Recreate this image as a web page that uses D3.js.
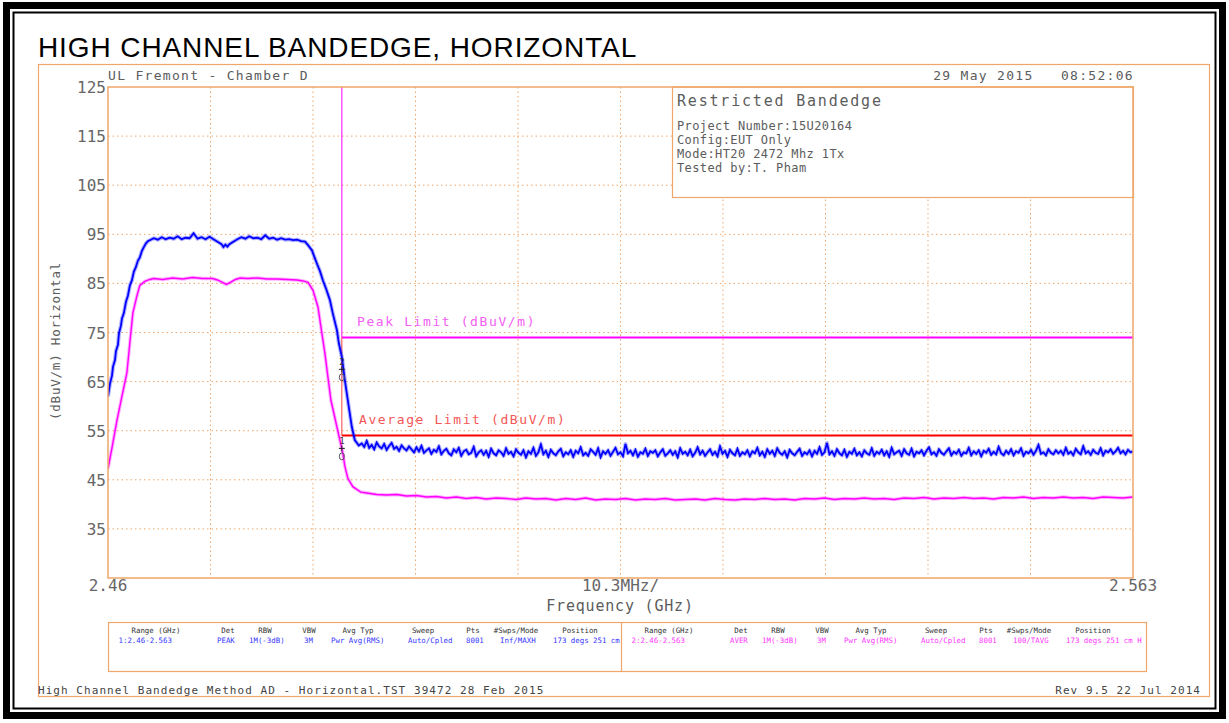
<!DOCTYPE html>
<html>
<head>
<meta charset="utf-8">
<script src="https://cdn.jsdelivr.net/npm/d3@7"></script>
<style>
  body { margin: 0; background: #fff; }
  svg { display: block; }
  text { white-space: pre; }
</style>
</head>
<body>
<svg id="chart"></svg>
<script>
// ---- data ----
const startGHz = 2.46, stopGHz = 2.563;
const levelMin = 25, levelMax = 125;
const yTickLabels = [125, 115, 105, 95, 85, 75, 65, 55, 45, 35];
const xTickLabels = ["2.46", "10.3MHz/", "2.563"];
const bandEdgeGHz = 2.4835;
const peakLimit = 74, avgLimit = 54;

// trace 1 (PEAK / MAXH): [MHz above 2460, dBuV/m]
const peakShape = [
  [0.0,62.0],[0.2,64.6],[0.4,66.2],[0.5,68.0],[0.7,69.4],[0.8,71.2],[1.0,72.5],[1.1,74.8],[1.3,76.4],[1.4,77.8],
  [1.6,79.0],[1.8,81.2],[2.0,82.5],[2.2,84.6],[2.4,85.6],[2.6,87.4],[2.8,88.3],[3.0,89.6],[3.2,90.3],[3.4,91.6],
  [3.6,92.4],[3.8,93.1],[4.0,93.6],[4.3,93.9],[4.6,94.2],[5.0,93.9],[5.4,94.4],[5.8,94.0],[6.2,94.3],[6.6,94.1],
  [7.0,94.6],[7.4,94.0],[7.8,94.3],[8.2,94.2],[8.6,95.2],[9.0,94.1],[9.4,94.4],[9.8,94.0],[10.2,94.5],[10.6,94.0],
  [11.0,93.5],[11.4,93.0],[11.6,92.4],[11.8,92.9],[12.0,92.5],[12.2,93.0],[12.6,93.5],[13.0,94.0],[13.4,94.4],[13.8,94.1],
  [14.2,94.6],[14.6,94.2],[15.0,94.3],[15.4,94.0],[15.8,94.8],[16.2,94.1],[16.6,94.3],[17.0,93.9],[17.4,94.2],[17.8,93.9],
  [18.2,94.0],[18.6,93.8],[19.0,93.9],[19.4,93.6],[19.8,93.5],[20.1,92.8],[20.5,91.7],[20.7,90.6],[21.0,89.0],[21.3,87.5],
  [21.6,85.6],[21.9,84.0],[22.3,81.6],[22.6,78.8],[23.0,75.5],[23.2,72.8],[23.5,70.0],[23.8,65.3],[24.2,59.8],[24.5,55.8],
  [24.8,53.1],[25.2,52.0]
];
const peakFloorStart = 25.5, peakFloorStep = 0.25;   // MHz
const peakFloor = [
  52.4,51.7,52.9,51.5,52.1,51.2,52.6,51.8,51.4,52.3,51.1,51.9,52.5,51.3,51.7,50.9,52.0,51.4,51.0,51.8,
  51.2,50.6,51.6,50.8,51.9,50.5,51.0,51.4,50.3,51.1,50.7,51.8,50.2,50.9,51.3,50.4,50.0,51.2,50.6,51.5,
  49.9,50.8,51.1,50.2,50.5,51.7,49.8,50.6,51.0,50.1,50.9,49.7,51.3,50.4,50.0,51.0,50.6,49.9,51.4,50.3,
  50.7,49.8,51.2,50.5,50.1,51.0,49.6,50.8,50.3,51.5,49.9,50.6,52.2,50.2,50.9,49.7,51.1,50.4,50.0,50.8,
  51.3,49.8,50.6,50.2,51.0,49.7,50.9,50.4,51.6,50.0,50.5,49.9,51.2,50.7,50.1,51.4,49.6,50.8,50.3,51.0,
  49.9,50.7,51.5,50.2,50.6,49.8,52.3,50.4,50.9,50.0,51.1,49.7,50.6,50.3,51.3,49.9,50.8,50.5,51.0,49.8,
  50.6,51.2,49.9,50.4,51.0,50.1,50.8,49.6,51.4,50.3,50.7,50.0,51.1,49.8,50.5,51.6,50.2,50.9,49.9,50.6,
  51.2,50.1,50.7,49.8,51.8,50.3,50.9,49.7,51.1,50.4,50.0,51.3,49.9,50.6,50.2,51.0,49.8,50.8,50.4,51.5,
  50.0,50.7,49.7,51.2,50.3,50.9,49.9,51.4,50.5,50.1,50.8,49.6,51.1,50.4,50.0,50.7,51.3,49.9,50.6,50.2,
  51.0,49.8,50.9,50.3,51.6,50.1,50.6,52.5,50.2,50.8,49.9,51.2,50.4,50.0,51.1,49.7,50.7,50.3,51.3,50.0,
  50.6,49.8,51.0,50.4,50.1,51.4,49.9,50.7,50.3,51.1,50.0,50.8,49.7,51.5,50.2,50.6,50.9,49.9,51.2,50.4,
  50.1,51.3,49.8,50.7,50.4,51.0,50.0,50.9,51.6,50.2,50.6,49.9,51.2,50.5,50.1,50.8,51.4,50.0,50.7,50.3,
  51.1,49.9,50.6,50.4,51.5,50.0,50.8,50.3,51.0,49.8,50.9,50.5,51.3,50.1,50.7,50.2,51.7,50.4,50.0,50.9,
  50.3,51.2,50.0,50.8,50.5,51.4,49.9,50.7,50.4,51.1,50.1,50.9,52.1,50.3,50.6,50.0,51.2,50.5,50.2,51.0,
  50.4,50.9,50.1,51.5,50.3,50.7,50.0,51.3,50.6,50.2,51.8,50.4,50.8,50.1,51.1,50.5,50.3,51.4,50.0,50.9,
  50.6,51.2,50.3,50.8,51.5,50.4,50.9,50.2,51.1,50.6,50.8
];

// trace 2 (AVER / TAVG)
const avgShape = [
  [0.0,47.3],[0.4,51.5],[0.9,57.1],[1.4,62.0],[1.9,66.8],[2.2,73.0],[2.5,79.0],[2.9,82.4],[3.2,84.6],[3.7,85.4],
  [4.2,85.8],[4.6,86.0],[5.5,85.8],[6.5,86.1],[7.5,85.9],[8.5,86.2],[9.5,86.0],[10.5,86.0],[11.0,85.7],[11.5,85.2],
  [11.9,84.8],[12.3,85.2],[12.8,85.8],[13.3,86.1],[14.0,86.0],[15.0,86.1],[16.0,85.9],[17.0,85.9],[18.0,85.8],[19.0,85.7],
  [19.6,85.5],[20.1,85.2],[20.6,83.6],[21.1,80.2],[21.4,76.1],[21.8,70.7],[22.1,65.9],[22.4,61.2],[23.0,55.8],[23.6,50.4],
  [23.8,47.8],[24.1,45.3],[24.6,43.6],[25.4,42.5]
];
const avgFloorStart = 26, avgFloorStep = 1;   // MHz
const avgFloor = [
  42.3,42.0,41.9,42.0,41.7,41.8,41.5,41.6,41.3,41.5,
  41.2,41.4,41.1,41.3,41.2,41.0,41.3,41.1,41.2,40.9,
  41.2,41.0,41.3,40.9,41.1,41.0,41.2,40.9,41.1,41.0,
  41.2,40.9,41.0,41.1,40.9,41.2,41.0,40.9,41.1,41.0,
  41.2,41.0,41.1,40.9,41.2,41.1,41.3,41.0,41.2,41.1,
  41.3,41.1,41.2,41.0,41.3,41.2,41.4,41.1,41.3,41.2,
  41.4,41.2,41.3,41.1,41.4,41.3,41.5,41.2,41.4,41.3,
  41.5,41.3,41.4,41.2,41.5,41.4,41.3,41.5
];

// markers: [id, GHz, dBuV/m]
const markers = [["2", 2.4835, 67.5], ["1", 2.4835, 51.4]];

const infoLines = ["Project Number:15U20164", "Config:EUT Only", "Mode:HT20 2472 Mhz 1Tx", "Tested by:T. Pham"];
const tableHeads = ["Range (GHz)", "Det", "RBW", "VBW", "Avg Typ", "Sweep", "Pts", "#Swps/Mode", "Position"];
const trace1Row = ["1:2.46-2.563", "PEAK", "1M(-3dB)", "3M", "Pwr Avg(RMS)", "Auto/Cpled", "8001", "Inf/MAXH", "173 degs 251 cm"];
const trace2Row = ["2:2.46-2.563", "AVER", "1M(-3dB)", "3M", "Pwr Avg(RMS)", "Auto/Cpled", "8001", "100/TAVG", "173 degs 251 cm H"];

// ---- layout ----
const W = 1229, H = 723;
const plot = {left: 108, top: 87, right: 1133, bottom: 578};
const orange = "#efa66a";
const mono = "'DejaVu Sans Mono', monospace";
const ink = "#5c5c5c";
const blue = "#0000ff", magenta = "#ff00ff";

const svg = d3.select("#chart").attr("width", W).attr("height", H);

const x = d3.scaleLinear().domain([startGHz, stopGHz]).range([plot.left, plot.right]);
const y = d3.scaleLinear().domain([levelMin, levelMax]).range([plot.bottom, plot.top]);

// black page frame
svg.append("rect").attr("x", 6.5).attr("y", 5.5).attr("width", 1216).attr("height", 710)
  .attr("fill", "none").attr("stroke", "#000").attr("stroke-width", 7);
svg.append("rect").attr("x", 13.5).attr("y", 12.5).attr("width", 1202).attr("height", 696)
  .attr("fill", "none").attr("stroke", "#000").attr("stroke-width", 2);

// title
svg.append("text")
  .attr("x", 38).attr("y", 57)
  .attr("font-family", "'Liberation Sans', Arial, sans-serif")
  .attr("font-size", 28).attr("letter-spacing", 0.9)
  .attr("fill", "#000")
  .text("HIGH CHANNEL BANDEDGE, HORIZONTAL");

// orange outer frame
svg.append("rect").attr("x", 38.5).attr("y", 64.5).attr("width", 1171).attr("height", 632)
  .attr("fill", "none").attr("stroke", orange).attr("stroke-width", 1.2);

// header texts
svg.append("text").attr("x", 108).attr("y", 80)
  .attr("font-family", mono).attr("font-size", 13).attr("letter-spacing", 1.3).attr("fill", ink)
  .text("UL Fremont - Chamber D");
svg.append("text").attr("x", 1134).attr("y", 80).attr("text-anchor", "end")
  .attr("font-family", mono).attr("font-size", 13).attr("letter-spacing", 1.3).attr("fill", ink)
  .text("29 May 2015   08:52:06");

// grid
const g = svg.append("g");
const vTicks = d3.range(1, 10).map(i => startGHz + i * (stopGHz - startGHz) / 10);
g.selectAll("line.vgrid")
  .data(vTicks)
  .join("line")
  .attr("class", "vgrid")
  .attr("x1", d => x(d)).attr("x2", d => x(d))
  .attr("y1", plot.top).attr("y2", plot.bottom)
  .attr("stroke", orange).attr("stroke-width", 1).attr("stroke-dasharray", "1.5,3");
g.selectAll("line.hgrid")
  .data(yTickLabels.filter(d => d < levelMax))
  .join("line")
  .attr("class", "hgrid")
  .attr("x1", plot.left).attr("x2", plot.right)
  .attr("y1", d => y(d)).attr("y2", d => y(d))
  .attr("stroke", orange).attr("stroke-width", 1).attr("stroke-dasharray", "1.5,3");

// y labels
g.selectAll("text.ylab")
  .data(yTickLabels)
  .join("text")
  .attr("class", "ylab")
  .attr("x", 106).attr("y", d => y(d) + 6)
  .attr("text-anchor", "end")
  .attr("font-family", mono).attr("font-size", 16).attr("fill", "#666")
  .text(d => d);

svg.append("text")
  .attr("transform", "translate(60,341) rotate(-90)")
  .attr("text-anchor", "middle")
  .attr("font-family", mono).attr("font-size", 12.5).attr("letter-spacing", 0.8).attr("fill", ink)
  .text("(dBuV/m) Horizontal");

// x labels
const xLabPos = [startGHz, (startGHz + stopGHz) / 2, stopGHz];
g.selectAll("text.xlab")
  .data(xTickLabels)
  .join("text")
  .attr("class", "xlab")
  .attr("x", (d, i) => x(xLabPos[i])).attr("y", 591)
  .attr("text-anchor", "middle")
  .attr("font-family", mono).attr("font-size", 16).attr("fill", "#666")
  .text(d => d);
svg.append("text")
  .attr("x", 620).attr("y", 611).attr("text-anchor", "middle")
  .attr("font-family", mono).attr("font-size", 15).attr("letter-spacing", 0.8).attr("fill", ink)
  .text("Frequency (GHz)");

// info box
svg.append("rect").attr("x", 672.5).attr("y", plot.top).attr("width", 461).attr("height", 110.5)
  .attr("fill", "#fff").attr("stroke", orange).attr("stroke-width", 1.2);
svg.append("text").attr("x", 677).attr("y", 106)
  .attr("font-family", mono).attr("font-size", 15).attr("letter-spacing", 1.8).attr("fill", ink)
  .text("Restricted Bandedge");
svg.selectAll("text.info")
  .data(infoLines)
  .join("text")
  .attr("class", "info")
  .attr("x", 677).attr("y", (d, i) => 130 + i * 13.9)
  .attr("font-family", mono).attr("font-size", 12).attr("letter-spacing", 0.4).attr("fill", ink)
  .text(d => d);

// limits
const lim = svg.append("g");
lim.append("line")
  .attr("x1", x(bandEdgeGHz)).attr("x2", x(bandEdgeGHz))
  .attr("y1", y(levelMax)).attr("y2", y(peakLimit))
  .attr("stroke", magenta).attr("stroke-width", 1);
lim.append("line")
  .attr("x1", x(bandEdgeGHz)).attr("x2", x(stopGHz))
  .attr("y1", y(peakLimit)).attr("y2", y(peakLimit))
  .attr("stroke", magenta).attr("stroke-width", 2);
lim.append("line")
  .attr("x1", x(bandEdgeGHz)).attr("x2", x(bandEdgeGHz))
  .attr("y1", y(peakLimit)).attr("y2", y(avgLimit))
  .attr("stroke", "#ff4040").attr("stroke-width", 1);
lim.append("line")
  .attr("x1", x(bandEdgeGHz)).attr("x2", x(stopGHz))
  .attr("y1", y(avgLimit)).attr("y2", y(avgLimit))
  .attr("stroke", "#ff0000").attr("stroke-width", 2);
lim.append("text")
  .attr("x", 357).attr("y", y(peakLimit) - 11)
  .attr("font-family", mono).attr("font-size", 13).attr("letter-spacing", 1.6).attr("fill", "#f360f3")
  .text("Peak Limit (dBuV/m)");
lim.append("text")
  .attr("x", 359).attr("y", y(avgLimit) - 12)
  .attr("font-family", mono).attr("font-size", 13).attr("letter-spacing", 1.6).attr("fill", "#f25656")
  .text("Average Limit (dBuV/m)");

// traces
svg.append("clipPath").attr("id", "plotClip")
  .append("rect").attr("x", plot.left).attr("y", plot.top)
  .attr("width", plot.right - plot.left).attr("height", plot.bottom - plot.top);

function buildTrace(shape, floorStart, floorStep, floor) {
  const pts = shape.map(d => [startGHz + d[0] / 1000, d[1]]);
  floor.forEach((v, i) => pts.push([startGHz + (floorStart + i * floorStep) / 1000, v]));
  return pts;
}
const peakTrace = buildTrace(peakShape, peakFloorStart, peakFloorStep, peakFloor);
const avgTrace = buildTrace(avgShape, avgFloorStart, avgFloorStep, avgFloor);

const line = d3.line().x(d => x(d[0])).y(d => y(d[1]));
const tg = svg.append("g").attr("clip-path", "url(#plotClip)");

[[avgTrace, magenta, 3.5, 1.4], [peakTrace, blue, 4, 1.8]].forEach(([data, col, halo, w]) => {
  tg.append("path").datum(data)
    .attr("d", line).attr("fill", "none")
    .attr("stroke", col).attr("stroke-opacity", 0.3).attr("stroke-width", halo)
    .attr("stroke-linejoin", "round");
  tg.append("path").datum(data)
    .attr("d", line).attr("fill", "none")
    .attr("stroke", col).attr("stroke-width", w)
    .attr("stroke-linejoin", "miter");
});

// plot border
svg.append("rect").attr("x", plot.left).attr("y", plot.top)
  .attr("width", plot.right - plot.left).attr("height", plot.bottom - plot.top)
  .attr("fill", "none").attr("stroke", orange).attr("stroke-width", 1.5);

// markers
const mk = svg.selectAll("g.marker")
  .data(markers)
  .join("g")
  .attr("class", "marker")
  .attr("transform", d => `translate(${x(d[1])},${y(d[2])})`);
mk.append("text")
  .attr("x", 0).attr("y", -4).attr("text-anchor", "middle")
  .attr("font-family", mono).attr("font-size", 9).attr("fill", "#333")
  .text(d => d[0]);
mk.append("path").attr("d", "M-3,0H3M0,-3V3").attr("stroke", "#222").attr("stroke-width", 1);
mk.append("ellipse").attr("cx", 0).attr("cy", 8).attr("rx", 2.5).attr("ry", 3.5)
  .attr("fill", "none").attr("stroke", "#555").attr("stroke-width", 1);

// settings table
const table = {top: 622, bottom: 671, boxes: [108, 621, 1146]};
const headX = [48, 120, 157, 201, 250, 315, 365, 408, 472];
const valX = [10.5, 109, 141, 196, 223, 300, 358, 392, 445];
svg.append("rect").attr("x", table.boxes[0] + 0.5).attr("y", table.top + 0.5)
  .attr("width", table.boxes[2] - table.boxes[0]).attr("height", table.bottom - table.top)
  .attr("fill", "none").attr("stroke", orange).attr("stroke-width", 1.2);
svg.append("line").attr("x1", table.boxes[1] + 0.5).attr("x2", table.boxes[1] + 0.5)
  .attr("y1", table.top).attr("y2", table.bottom)
  .attr("stroke", orange).attr("stroke-width", 1.2);

[[trace1Row, "#3636ff", table.boxes[0]], [trace2Row, "#ff36ff", table.boxes[1]]].forEach(([row, col, x0]) => {
  const tb = svg.append("g").attr("transform", `translate(${x0},0)`);
  tb.selectAll("text.head")
    .data(tableHeads)
    .join("text")
    .attr("class", "head")
    .attr("x", (d, i) => headX[i]).attr("y", 633)
    .attr("text-anchor", "middle")
    .attr("font-family", mono).attr("font-size", 7.4).attr("fill", "#333")
    .text(d => d);
  tb.selectAll("text.val")
    .data(row)
    .join("text")
    .attr("class", "val")
    .attr("x", (d, i) => valX[i]).attr("y", 643)
    .attr("font-family", mono).attr("font-size", 7.4).attr("fill", col)
    .text(d => d);
});

// footer
svg.append("text").attr("x", 38).attr("y", 694)
  .attr("font-family", mono).attr("font-size", 11).attr("letter-spacing", 1.05).attr("fill", "#444")
  .text("High Channel Bandedge Method AD - Horizontal.TST 39472 28 Feb 2015");
svg.append("text").attr("x", 1201).attr("y", 694).attr("text-anchor", "end")
  .attr("font-family", mono).attr("font-size", 11).attr("letter-spacing", 1.05).attr("fill", "#444")
  .text("Rev 9.5 22 Jul 2014");
</script>
</body>
</html>
